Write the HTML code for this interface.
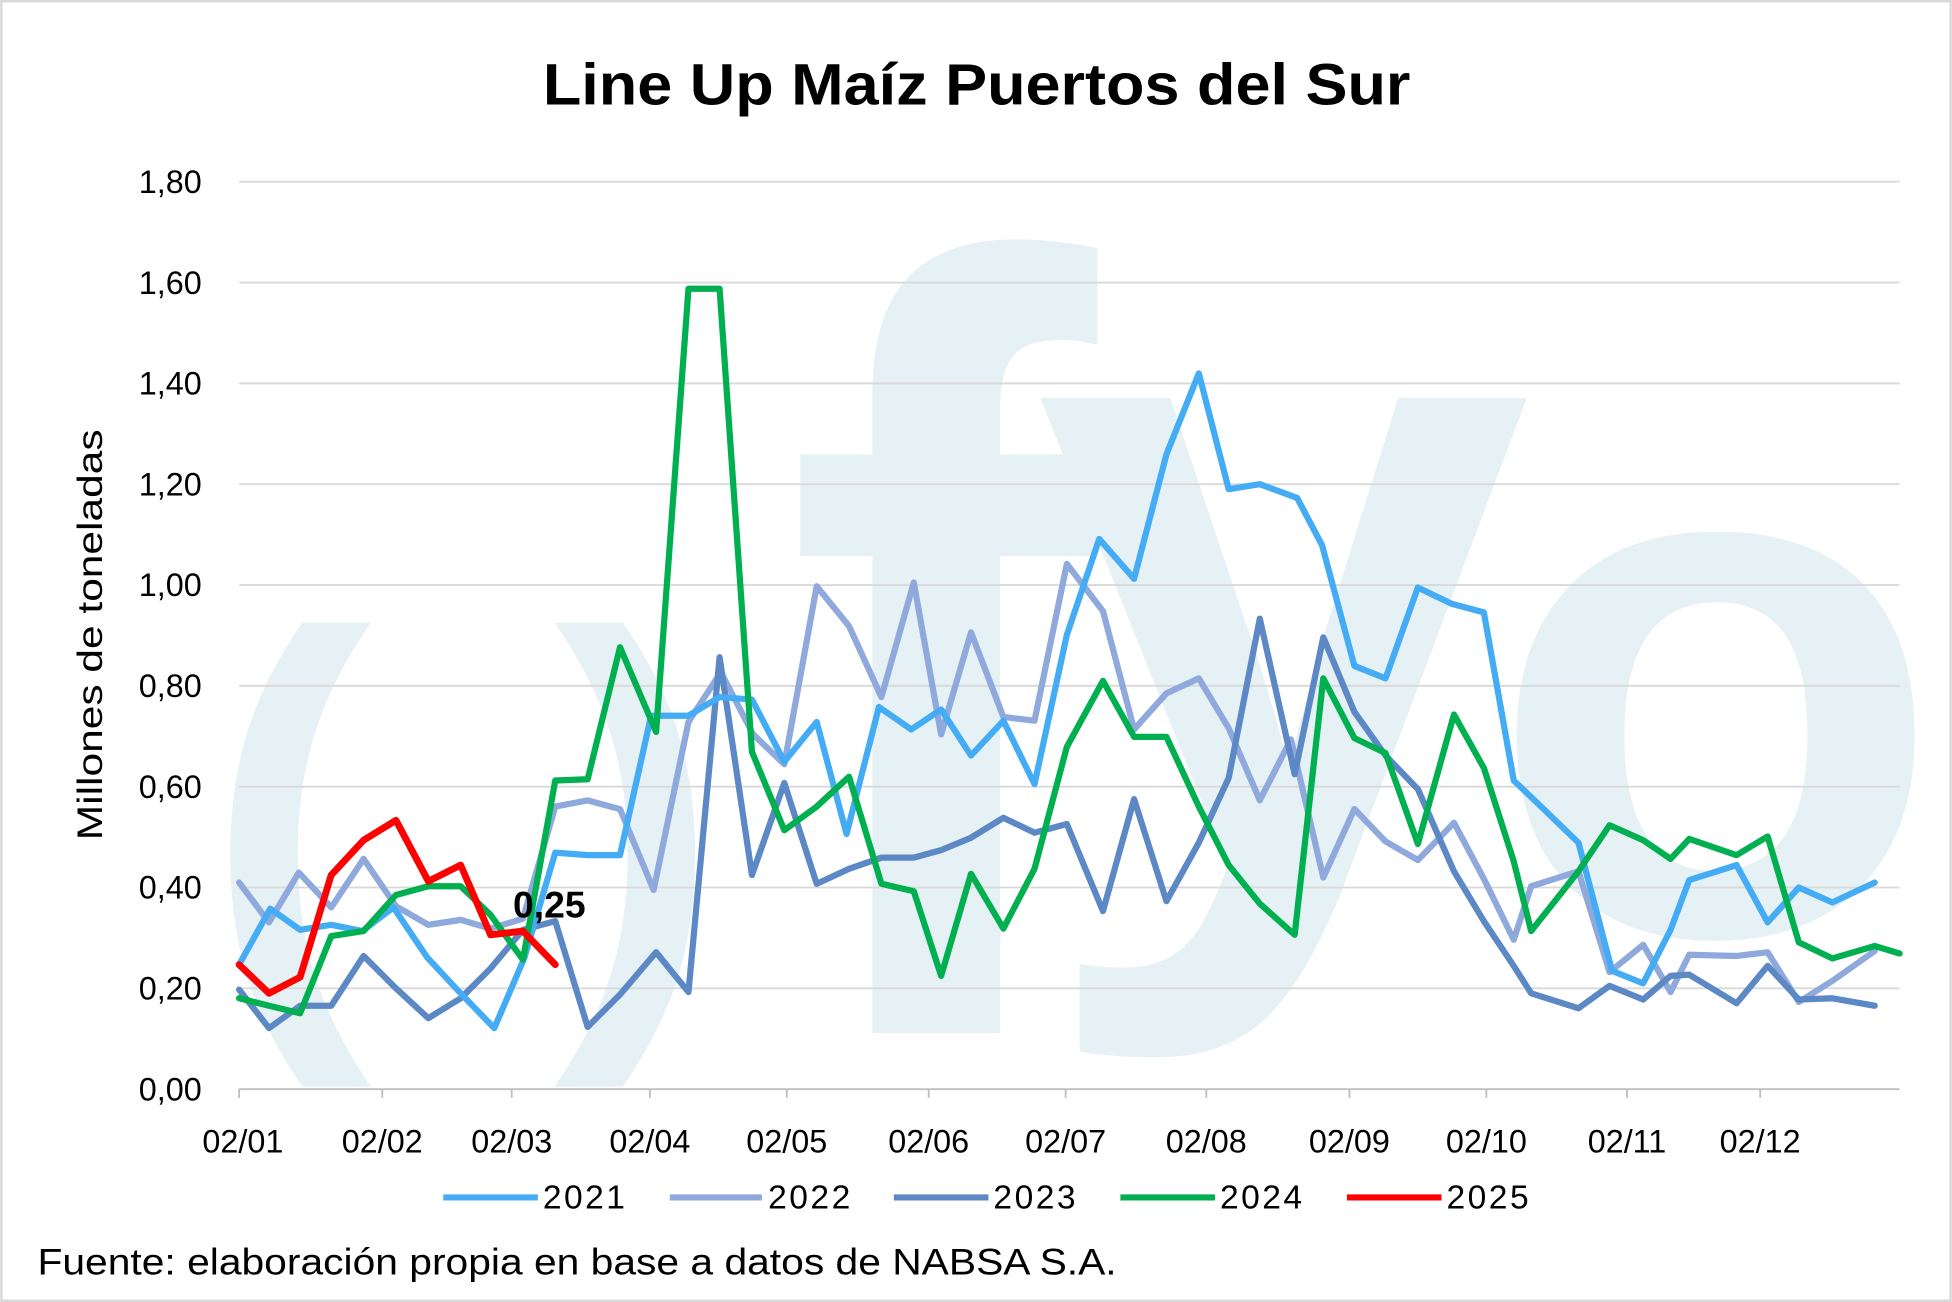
<!DOCTYPE html>
<html><head><meta charset="utf-8"><style>
html,body{margin:0;padding:0;background:#fff}
svg{display:block}
text{font-family:"Liberation Sans","DejaVu Sans",sans-serif}
</style></head><body>
<svg width="1952" height="1302" viewBox="0 0 1568 1046" xmlns="http://www.w3.org/2000/svg">
<rect x="1" y="1" width="1566" height="1044" fill="#fff" stroke="#d9d9d9" stroke-width="2"/>
<g fill="#e5f1f4" font-weight="bold">
<text x="630" y="830" font-size="880" textLength="250" lengthAdjust="spacingAndGlyphs">f</text>
<text x="830" y="700" font-size="720">y</text>
<text x="1195" y="750" font-size="600">o</text>
<text x="165" y="790" font-size="400">(</text>
<text x="445" y="790" font-size="400">)</text>
</g>
<g stroke="#d9d9d9" stroke-width="1.5">
<line x1="192" x2="1526" y1="146" y2="146"/><line x1="192" x2="1526" y1="227" y2="227"/>
<line x1="192" x2="1526" y1="308" y2="308"/><line x1="192" x2="1526" y1="389" y2="389"/>
<line x1="192" x2="1526" y1="470" y2="470"/><line x1="192" x2="1526" y1="551" y2="551"/>
<line x1="192" x2="1526" y1="632" y2="632"/><line x1="192" x2="1526" y1="713" y2="713"/>
<line x1="192" x2="1526" y1="794" y2="794"/>
</g>
<line x1="192" x2="1526" y1="875" y2="875" stroke="#bfbfbf" stroke-width="1.5"/>
<g stroke="#bfbfbf" stroke-width="1.5">
<line x1="192" x2="192" y1="875" y2="882"/><line x1="307" x2="307" y1="875" y2="882"/><line x1="411" x2="411" y1="875" y2="882"/><line x1="522" x2="522" y1="875" y2="882"/><line x1="632" x2="632" y1="875" y2="882"/><line x1="746" x2="746" y1="875" y2="882"/><line x1="856" x2="856" y1="875" y2="882"/><line x1="969" x2="969" y1="875" y2="882"/><line x1="1084" x2="1084" y1="875" y2="882"/><line x1="1194" x2="1194" y1="875" y2="882"/><line x1="1307" x2="1307" y1="875" y2="882"/><line x1="1414" x2="1414" y1="875" y2="882"/>
</g>
<g font-size="26" fill="#000" text-anchor="end">
<text x="162" y="155">1,80</text><text x="162" y="236">1,60</text><text x="162" y="317">1,40</text><text x="162" y="398">1,20</text><text x="162" y="479">1,00</text><text x="162" y="560">0,80</text><text x="162" y="641">0,60</text><text x="162" y="722">0,40</text><text x="162" y="803">0,20</text><text x="162" y="884">0,00</text>
</g>
<g font-size="26" fill="#000" text-anchor="middle">
<text x="195" y="926">02/01</text><text x="307" y="926">02/02</text><text x="411" y="926">02/03</text><text x="522" y="926">02/04</text><text x="632" y="926">02/05</text><text x="746" y="926">02/06</text><text x="856" y="926">02/07</text><text x="969" y="926">02/08</text><text x="1084" y="926">02/09</text><text x="1194" y="926">02/10</text><text x="1307" y="926">02/11</text><text x="1414" y="926">02/12</text>
</g>
<text transform="translate(82,510) rotate(-90)" font-size="28" text-anchor="middle" textLength="330" lengthAdjust="spacingAndGlyphs">Millones de toneladas</text>
<text x="436" y="84" font-size="47" font-weight="bold" textLength="697" lengthAdjust="spacingAndGlyphs">Line Up Maíz Puertos del Sur</text>
<g fill="none" stroke-width="5" stroke-linejoin="round" stroke-linecap="round">
<polyline stroke="#8fa9dc" points="192,709 216,741 240,701 266,729 292,690 318,728 344,743 370,739 394,746 420,738 446,648 472,643 498,650 525,715 553,580 579,540 605,590 630,614 656,471 682,503 708,560 734,468 756,590 780,508 806,576 831,579 857,453 886,491 911,586 937,557 963,545 987,585 1012,643 1037,594 1063,705 1088,650 1113,676 1139,691 1168,661 1192,706 1216,755 1230,712 1268,700 1293,781 1320,759 1342,797 1357,767 1395,768 1420,765 1445,805 1472,788 1506,764"/>
<polyline stroke="#5d88c6" points="192,795 216,826 241,808 266,808 292,768 318,794 344,818 370,802 394,778 420,747 446,740 472,825 498,799 527,765 553,797 578,528 604,703 630,629 656,710 682,698 708,689 734,689 756,683 780,673 806,657 831,669 857,662 886,732 911,642 937,724 963,677 987,625 1012,497 1040,622 1063,512 1088,572 1113,607 1139,634 1168,700 1192,740 1216,776 1230,798 1268,810 1293,792 1320,803 1342,784 1357,783 1395,806 1420,776 1445,803 1472,802 1506,808"/>
<polyline stroke="#44acf4" points="192,775 217,730 241,747 266,743 291,748 316,729 343,769 369,797 397,826 421,770 446,685 472,687 498,687 523,575 553,575 578,560 604,562 630,612 656,580 680,670 706,568 732,586 756,570 780,607 806,579 831,630 857,510 883,433 911,465 937,365 963,300 987,393 1012,389 1042,400 1062,438 1088,535 1113,545 1139,472 1166,485 1192,492 1216,627 1238,648 1268,677 1295,780 1320,790 1342,747 1357,707 1395,695 1420,741 1445,713 1472,725 1506,709"/>
<polyline stroke="#00b050" points="192,802 216,808 241,814 266,752 292,748 318,719 344,712 370,712 394,735 420,771 446,627 472,626 498,520 527,588 553,232 578,232 604,604 630,667 656,648 682,624 708,710 734,716 756,784 780,702 806,746 831,698 857,600 886,547 911,592 937,592 963,648 987,695 1012,726 1040,751 1063,545 1088,593 1113,605 1139,678 1168,574 1192,617 1216,692 1230,748 1268,700 1293,663 1320,675 1342,690 1357,674 1395,687 1420,672 1445,757 1472,770 1506,760 1526,766"/>
<polyline stroke="#ff0000" stroke-width="5.5" points="192,775 216,798 241,785 266,703 292,675 318,659 344,708 370,695 394,751 420,748 446,775"/>
</g>
<text x="412" y="737" font-size="30" font-weight="bold">0,25</text>
<g stroke-width="5">
<line x1="356" x2="432" y1="962" y2="962" stroke="#44acf4"/>
<line x1="538" x2="612" y1="962" y2="962" stroke="#8fa9dc"/>
<line x1="718" x2="794" y1="962" y2="962" stroke="#5d88c6"/>
<line x1="900" x2="976" y1="962" y2="962" stroke="#00b050"/>
<line x1="1082" x2="1158" y1="962" y2="962" stroke="#ff0000"/>
</g>
<g font-size="27">
<text x="436" y="971" textLength="66">2021</text><text x="617" y="971" textLength="66">2022</text><text x="798" y="971" textLength="66">2023</text><text x="980" y="971" textLength="66">2024</text><text x="1162" y="971" textLength="66">2025</text>
</g>
<text x="30" y="1024" font-size="30" textLength="867" lengthAdjust="spacingAndGlyphs">Fuente: elaboración propia en base a datos de NABSA S.A.</text>
</svg>
</body></html>
